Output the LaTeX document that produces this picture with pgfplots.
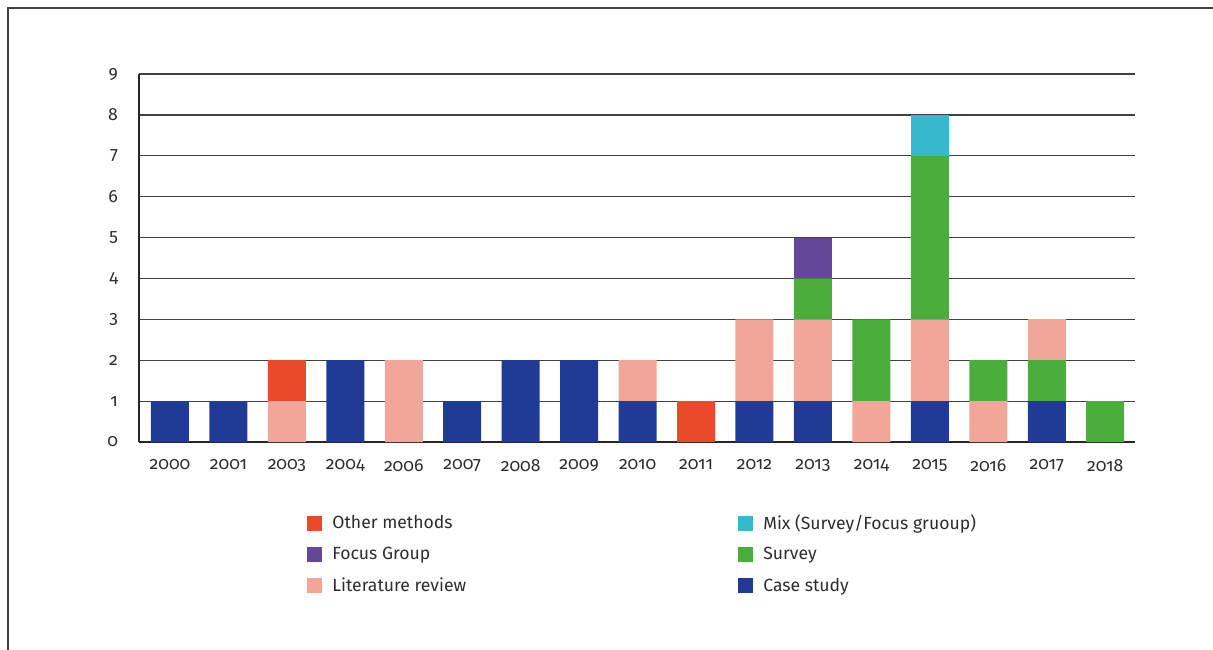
\documentclass[border=0pt]{standalone}
\usepackage{fontspec}
\setmainfont{Fira Sans}[Numbers=OldStyle]
\usepackage{pgfplots}
\usepackage{pgfplotstable}
\pgfplotsset{compat=1.18}
\definecolor{cs}{RGB}{33,58,150}
\definecolor{lr}{RGB}{240,166,152}
\definecolor{sv}{RGB}{75,174,60}
\definecolor{fg}{RGB}{101,71,154}
\definecolor{mx}{RGB}{55,184,204}
\definecolor{ot}{RGB}{233,75,42}
\definecolor{txt}{RGB}{45,45,45}
\pgfplotstableread{
x cs lr sv fg mx ot lrb
0 1 0 0 0 0 0 0
1 1 0 0 0 0 0 0
2 0 1 0 0 0 1 0
3 2 0 0 0 0 0 0
4 0 2 0 0 0 0 0
5 1 0 0 0 0 0 0
6 2 0 0 0 0 0 0
7 2 0 0 0 0 0 0
8 1 1 0 0 0 0 0
9 0 0 0 0 0 1 0
10 1 2 0 0 0 0 0
11 1 2 1 1 0 0 0
12 0 1 2 0 0 0 0
13 1 2 4 0 1 0 0
14 0 1 1 0 0 0 0
15 1 0 1 0 0 0 1
16 0 0 1 0 0 0 0
}\data
\begin{document}
\begin{tikzpicture}
\path[use as bounding box] (0,0) rectangle (606.5pt,324.5pt);
\draw[line width=1pt, black!75] (4pt,-1pt) -- (4pt,320.5pt) -- (607pt,320.5pt);
\begin{axis}[
  at={(69.5pt,103.5pt)}, anchor=south west,
  scale only axis, width=498pt, height=184pt,
  ybar stacked, bar width=19pt,
  xmin=-0.53, xmax=16.51, ymin=0, ymax=9,
  xtick={0,...,16},
  xticklabels={2000,2001,2003,2004,2006,2007,2008,2009,2010,2011,2012,2013,2014,2015,2016,2017,2018},
  ytick={0,...,9},
  axis lines*=left,
  axis line style={line width=1pt, black!85},
  ymajorgrids, major grid style={line width=0.6pt, black!75},
  tick style={draw=none},
  /pgf/number format/assume math mode=true,
  tick label style={font=\fontsize{8.8}{10}\selectfont, text=txt},
  yticklabel style={xshift=-7pt},
  xticklabel style={yshift=-5pt},
  legend columns=2,
  legend cell align=left,
  legend image code/.code={\fill[#1] (0pt,-3.75pt) rectangle (7.5pt,3.75pt); \path (11pt,0pt);},
  legend style={at={(0,0)}, anchor=north west, xshift=84pt, yshift=-34.5pt,
    draw=none, fill=none, inner sep=0pt,
    font=\fontsize{8.8}{10}\selectfont, text=txt,
    /tikz/every even column/.append style={column sep=134.5pt},
    /tikz/row sep=4.5pt,
    nodes={inner sep=1.5pt}},
]
\addplot[fill=cs, draw=none, forget plot] table[x=x,y=cs]{\data};
\addplot[fill=lr, draw=none, forget plot] table[x=x,y=lr]{\data};
\addplot[fill=sv, draw=none, forget plot] table[x=x,y=sv]{\data};
\addplot[fill=fg, draw=none, forget plot] table[x=x,y=fg]{\data};
\addplot[fill=mx, draw=none, forget plot] table[x=x,y=mx]{\data};
\addplot[fill=ot, draw=none, forget plot] table[x=x,y=ot]{\data};
\addplot[fill=lr, draw=none, forget plot] table[x=x,y=lrb]{\data};
\addlegendimage{fill=ot, draw=none}
\addlegendentry{Other methods}
\addlegendimage{fill=mx, draw=none}
\addlegendentry{Mix (Survey/Focus gruoup)}
\addlegendimage{fill=fg, draw=none}
\addlegendentry{Focus Group}
\addlegendimage{fill=sv, draw=none}
\addlegendentry{Survey}
\addlegendimage{fill=lr, draw=none}
\addlegendentry{Literature review}
\addlegendimage{fill=cs, draw=none}
\addlegendentry{Case study}
\end{axis}
\end{tikzpicture}
\end{document}
